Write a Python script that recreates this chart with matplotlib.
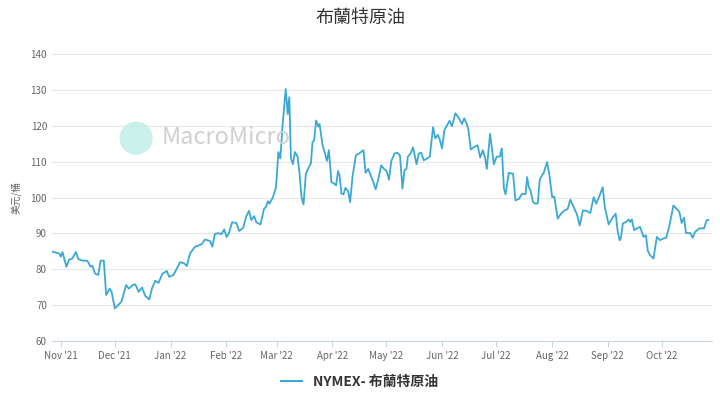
import numpy as np
import pandas as pd
import matplotlib
matplotlib.use("Agg")
import matplotlib.pyplot as plt
from matplotlib.lines import Line2D
from matplotlib.patches import Ellipse

plt.rcParams['font.family'] = ['Noto Sans CJK TC', 'DejaVu Sans']

# days since 2021-11-01
days = [-4.6, -0.9, 0, 0.9, 3.1, 4.6, 6.4, 8.3, 9.8, 12, 14.7, 16.6, 17.5, 19, 20.8, 22.1, 23.9,
        25.2, 27.1, 28.2, 30, 31.9, 33.7, 36.3, 37.8, 40, 41.4, 43.3, 45.1, 47, 49.2, 50.6, 52.5,
        54.3, 56.5, 58.9, 60.2, 62.6, 66.3, 68.7, 70, 71.8, 74.6, 76.4, 78.3, 80.1, 82.9, 84.2,
        85.6, 87.5, 89.3, 90.8, 92.1, 93.4, 95.2, 97.6, 99.1, 101.3, 103.1, 104.6, 105.9, 107.4,
        108.7, 111, 112.9, 114, 115.1, 116, 117.9,
        119.6, 120.9, 122, 123.3, 125, 126.1, 127, 127.9, 129, 130.1, 131.6, 132.7, 133.8, 134.9,
        136.2, 138.1, 139, 139.9, 140.8, 141.9, 143.1, 143.8, 145.5, 146.8, 147.9, 149, 150.4,
        151.9, 153, 154.1, 154.9, 156, 157.1, 158.2, 159.7, 160.8, 162.1, 164, 165.8, 168.2,
        169.4, 170.9, 172.2, 173.7, 175, 176.3, 178.1, 179.6, 181.1, 182.4, 183.7, 185.5, 187,
        188.5, 189.9, 191, 192.1, 192.9, 194.4, 195.8, 197.7, 199, 200.3, 201.7, 203.6, 205.1,
        206.9, 208.2, 209.5, 210.6, 211.9, 213.2, 214.7, 216.1, 217.4, 219.3, 221.1, 223, 224.2,
        225.7, 226.6, 227.9, 229.4, 231.6, 233.1, 234.6, 235.9, 236.8, 238.6,
        240.7, 242.2, 244, 245.1, 246.3, 247.2, 249, 251.4, 252.7, 254.6, 256.4, 258.3, 259.2,
        260.1, 261, 262.5, 263.8, 265.1, 266.2, 267.5, 268.4, 270.3, 271.6, 273.1, 274.3, 276.2,
        278, 279.9, 281.7, 283.2, 285.1, 286.9, 288.4, 290.2, 292.1, 294.3, 296.2, 297.6, 299.5,
        301.2, 302.4, 304.5, 306.3, 308.4, 309.5, 310.6, 311.3, 312.4, 314.3, 315.6, 316.5, 317.4,
        318.7, 320.2, 322, 323.9, 325.2, 326.3, 327.6, 329.4, 331.3, 333.1, 335, 336.5, 338.3,
        340.5, 342.4, 343.8, 345.1, 346.4, 347.5, 349.8, 351.2, 352.5, 354.9, 357.5, 359, 359.9]

price = [84.9, 84.4, 83.5, 84.8, 80.7, 82.7, 83, 84.8, 82.8, 82.4, 82.4, 80.7, 81, 78.8, 78.4, 82.4, 82.4,
         72.8, 74.6, 73.7, 69.1, 70, 71, 75.6, 74.6, 75.6, 75.8, 73.7, 74.9, 72.5, 71.6, 74.6, 76.8,
         76.2, 78.8, 79.5, 77.9, 78.4, 82, 81.6, 80.9, 84.4, 86.3, 86.6, 87, 88.3, 87.9, 86.3,
         89.8, 90.1, 89.8, 91.1, 89, 90, 93.1, 92.9, 90.7, 91.5, 94.8, 96.3, 93.7, 94.8,
         93.1, 92.5, 96.8, 97.4, 99, 98.3, 100.1,
         102.9, 112.7, 110.9, 120.5, 130.3, 123.3, 128, 110.9, 109.3, 112.7, 111.4, 106.6, 100.1, 98.1,
         106.6, 108.7, 109.5, 115.5, 115.9, 121.5, 119.8, 120.5, 114.6, 112.3, 110.2, 113.2, 104.3,
         103.9, 103.4, 107.4, 106.2, 101.1, 100.9, 102.7, 101.8, 98.7, 105.7, 111.8, 112.3, 113.2,
         106.9, 108, 106.2, 104.3, 102.3, 104.8, 109, 108, 107.4, 105, 110.2, 112.3, 112.5,
         111.8, 102.5, 107.6, 108, 111.4, 112.3, 114, 109.3, 112.3, 112.5, 110.4, 110.9, 111.4,
         119.6, 116.5, 117.5, 116.2, 113.7, 118.8, 120.2, 121.4, 119.9, 123.5, 122.3, 120.5, 122.1,
         120.5, 118.8, 113.4, 114, 114.6, 111.2, 113.2, 110.9, 108, 117.8,
         109.3, 111.4, 111.4, 113.7, 102.5, 100.9, 106.9, 106.6, 99.2, 99.6, 101.1, 100.9, 105.7,
         102.9, 102.1, 98.7, 98.3, 98.4, 105, 106.2, 106.9, 109.9, 106.2, 100.1, 100.3, 94.1,
         95.5, 96.4, 96.8, 99.4, 97.3, 95.3, 92.2, 96.4, 96.3, 95.7, 100.1, 98.3, 100.6,
         102.9, 97.3, 92.5, 94.1, 95.5, 90.7, 88.1, 88.6, 92.8, 93.2, 93.9, 93.2, 93.9,
         90.9, 91.4, 91.8, 89, 89.5, 85.1, 83.9, 83, 89, 88.1, 88.6, 88.8, 92.2,
         97.8, 96.8, 96, 92.9, 94.4, 90.1, 90.1, 88.8, 90.4, 91.4, 91.4, 93.7, 93.7]

dates = pd.Timestamp("2021-11-01") + pd.to_timedelta(days, unit="D")
month_ticks = pd.date_range("2021-11-01", "2022-10-01", freq="MS")
month_labels = [d.strftime("%b '%y") for d in month_ticks]

fig = plt.figure(figsize=(7.2, 4.04), dpi=100)
ax = fig.add_axes([0.072, 0.156, 0.917, 0.71])
line_color = "#3aa9d3"
ax.plot(dates, price, color=line_color, lw=1.3, zorder=3)

ax.set_ylim(60, 140)
ax.set_yticks(range(60, 141, 10))
ax.set_xlim(pd.Timestamp("2021-10-27"), pd.Timestamp("2022-10-29"))
ax.set_xticks(month_ticks)
ax.set_xticklabels(month_labels)
ax.grid(axis="y", color="#e6e6e6", lw=0.8)
for s in ["top", "right", "left"]:
    ax.spines[s].set_visible(False)
ax.spines["bottom"].set_color("#ccd6eb")
ax.tick_params(axis="y", length=0, labelsize=7, colors="#666666")
ax.tick_params(axis="x", length=4, color="#ccd6eb", labelsize=7, colors="#666666")
ax.set_ylabel("美元/桶", fontsize=7, color="#666666", labelpad=6)

fig.text(0.5, 0.955, "布蘭特原油", ha="center", va="center", fontsize=13, color="#333333")

# watermark
fig.patches.append(Ellipse((0.189, 0.658), 0.044, 0.044 * 720 / 404, transform=fig.transFigure,
                           color="#bfeee6", alpha=0.8, zorder=0))
fig.text(0.225, 0.66, "MacroMicro", fontsize=17, color="#d0d0d0", va="center", zorder=0)

handle = Line2D([], [], color=line_color, lw=1.5)
fig.legend([handle], ["NYMEX- 布蘭特原油"], loc="center", bbox_to_anchor=(0.5, 0.055),
           frameon=False, prop={"weight": "bold", "size": 10}, handlelength=1.5,
           labelcolor="#333333")

fig.savefig("out.png", dpi=100)
